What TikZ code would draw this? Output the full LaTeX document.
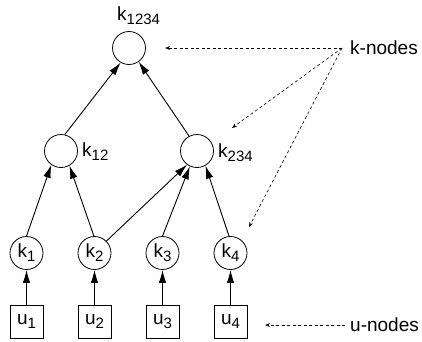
\documentclass[tikz,border=0pt]{standalone}
\usepackage{fontspec}
\setmainfont{Liberation Sans}
\usetikzlibrary{arrows.meta}
\newcommand{\ksb}[2]{#1\raisebox{-4pt}{\fontsize{15}{16}\selectfont #2}}
\begin{document}
\begin{tikzpicture}[x=1pt,y=-1pt,
  every node/.style={font=\fontsize{19}{21}\selectfont},
  knode/.style={circle,draw,line width=0.8pt,minimum size=33pt,inner sep=0pt},
  unode/.style={rectangle,draw,line width=0.7pt,minimum size=33pt,inner sep=0pt},
  solidarrow/.style={line width=0.9pt,-{Latex[length=13pt,width=7.5pt]}},
  hintarrow/.style={line width=0.6pt,dash pattern=on 3pt off 2.5pt,-{Stealth[open,length=5pt,width=4pt]}},
  lbl/.style={anchor=base west,inner sep=0pt}]
\useasboundingbox (0,0) rectangle (422,341);
% k-nodes
\node[knode] (k1234) at (129,48) {};
\node[knode] (k12) at (61,151) {};
\node[knode] (k234) at (197,151) {};
\node[knode] (k1) at (26.5,253) {\ksb{k}{1}};
\node[knode] (k2) at (94.5,253) {\ksb{k}{2}};
\node[knode] (k3) at (162.5,253) {\ksb{k}{3}};
\node[knode] (k4) at (230.5,253) {\ksb{k}{4}};
% u-nodes
\node[unode] (u1) at (26.5,321.5) {\ksb{u}{1}};
\node[unode] (u2) at (94.5,321.5) {\ksb{u}{2}};
\node[unode] (u3) at (162.5,321.5) {\ksb{u}{3}};
\node[unode] (u4) at (230.5,321.5) {\ksb{u}{4}};
% labels
\node[lbl] (l1234) at (117,20) {\ksb{k}{1234}};
\node[lbl] (l12) at (82,156) {\ksb{k}{12}};
\node[lbl] (l234) at (218,157) {\ksb{k}{234}};
\node[anchor=west,inner sep=0pt] (kn) at (350,48) {k-nodes};
\node[anchor=west,inner sep=0pt] (un) at (350,325) {u-nodes};
% solid arrows
\draw[solidarrow] (u1.north) -- (k1.south);
\draw[solidarrow] (u2.north) -- (k2.south);
\draw[solidarrow] (u3.north) -- (k3.south);
\draw[solidarrow] (u4.north) -- (k4.south);
\draw[solidarrow] (k1.north) -- (k12.235);
\draw[solidarrow] (k2.92) -- (k12.300);
\draw[solidarrow] (k2.45) -- (k234.234);
\draw[solidarrow] (k3.90) -- (k234.245);
\draw[solidarrow] (k4.95) -- (k234.300);
\draw[solidarrow] (k12.77) -- (k1234.240);
\draw[solidarrow] (k234.118) -- (k1234.305);
% hint arrows
\coordinate (kc) at (342,48);
\coordinate (uc) at (345,325);
\coordinate (t1) at (165,48);
\coordinate (t2) at (232,128);
\coordinate (t3) at (249,227);
\coordinate (t4) at (265,325);
\draw[hintarrow] (kc) -- (t1);
\draw[hintarrow] (kc) -- (t2);
\draw[hintarrow] (kc) -- (t3);
\draw[hintarrow] (uc) -- (t4);
\end{tikzpicture}
\end{document}
